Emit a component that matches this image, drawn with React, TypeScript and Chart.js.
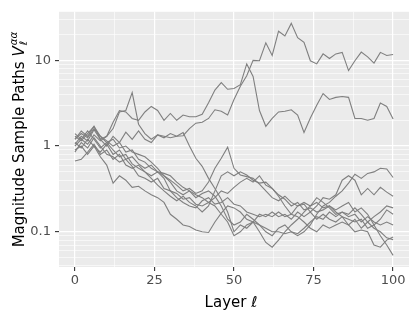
import React, { useEffect, useRef } from "react";
import { Chart, registerables } from "chart.js";

Chart.register(...registerables);

const layers = [0, 2, 4, 6, 8, 10, 12, 14, 16, 18, 20, 22, 24, 26, 28, 30, 32, 34, 36, 38, 40, 42, 44, 46, 48, 50, 52, 54, 56, 58, 60, 62, 64, 66, 68, 70, 72, 74, 76, 78, 80, 82, 84, 86, 88, 90, 92, 94, 96, 98, 100];

const pathTop = [1.05, 1.3, 1.15, 1.55, 1.2, 1.0, 1.3, 1.1, 1.45, 1.2, 1.5, 1.2, 1.1, 1.35, 1.25, 1.4, 1.3, 1.32, 1.6, 1.85, 1.9, 2.1, 2.65, 2.55, 2.3, 3.5, 5.0, 6.6, 10.0, 9.9, 16, 11.4, 21.9, 19.3, 27, 18.4, 16.2, 9.9, 9.1, 11.9, 10.5, 11.9, 12.4, 7.6, 9.9, 12.5, 11, 9.3, 12.4, 11.4, 11.7];
const pathSecond = [1.2, 1.5, 1.3, 1.7, 1.2, 1.3, 1.9, 2.6, 2.5, 2.1, 2.0, 2.5, 2.9, 2.6, 2.0, 2.4, 2.0, 2.3, 2.2, 2.2, 2.35, 3.2, 4.5, 5.5, 4.6, 4.7, 5.2, 9.1, 6.5, 2.6, 1.7, 2.1, 2.5, 2.55, 2.65, 2.3, 1.44, 2.13, 3.0, 4.1, 3.5, 3.7, 3.78, 3.7, 2.1, 2.1, 2.0, 2.1, 3.17, 2.9, 2.07];
const pathDiver = [1.0, 1.2, 1.05, 1.35, 1.15, 1.3, 1.6, 2.5, 2.6, 4.2, 1.8, 1.4, 1.2, 1.35, 1.3, 1.25, 1.3, 1.44, 1.0, 0.72, 0.58, 0.42, 0.32, 0.24, 0.17, 0.1, 0.12, 0.11, 0.13, 0.16, 0.15, 0.17, 0.15, 0.16, 0.14, 0.17, 0.15, 0.17, 0.14, 0.16, 0.14, 0.13, 0.15, 0.12, 0.14, 0.11, 0.13, 0.15, 0.17, 0.2, 0.19];
const pathRiser = [1.1, 0.95, 1.2, 1.0, 0.85, 1.05, 0.8, 0.9, 0.7, 0.75, 0.62, 0.55, 0.6, 0.5, 0.48, 0.45, 0.38, 0.33, 0.3, 0.27, 0.25, 0.22, 0.2, 0.16, 0.13, 0.09, 0.1, 0.12, 0.13, 0.12, 0.11, 0.1, 0.1, 0.095, 0.1, 0.09, 0.1, 0.12, 0.16, 0.2, 0.22, 0.26, 0.3, 0.37, 0.47, 0.42, 0.48, 0.5, 0.55, 0.54, 0.43];
const pathPeak = [1.3, 1.15, 1.4, 1.7, 1.3, 1.15, 1.0, 1.1, 0.85, 0.9, 0.7, 0.65, 0.55, 0.5, 0.45, 0.4, 0.35, 0.3, 0.32, 0.28, 0.3, 0.38, 0.55, 0.72, 0.97, 0.55, 0.46, 0.44, 0.42, 0.36, 0.3, 0.25, 0.23, 0.26, 0.22, 0.2, 0.21, 0.17, 0.2, 0.25, 0.24, 0.27, 0.4, 0.45, 0.4, 0.27, 0.32, 0.27, 0.33, 0.29, 0.26];
const pathLow = [0.9, 1.0, 0.8, 1.0, 0.75, 0.6, 0.37, 0.45, 0.4, 0.33, 0.34, 0.3, 0.27, 0.25, 0.22, 0.16, 0.14, 0.12, 0.115, 0.105, 0.1, 0.098, 0.13, 0.165, 0.2, 0.19, 0.17, 0.14, 0.13, 0.1, 0.075, 0.066, 0.08, 0.1, 0.12, 0.14, 0.17, 0.2, 0.22, 0.19, 0.2, 0.17, 0.15, 0.14, 0.13, 0.14, 0.11, 0.12, 0.14, 0.18, 0.16];
const pathFlat = [1.4, 1.2, 1.5, 1.2, 0.95, 1.1, 0.9, 0.75, 0.8, 0.62, 0.55, 0.5, 0.45, 0.5, 0.42, 0.3, 0.25, 0.22, 0.2, 0.19, 0.23, 0.25, 0.21, 0.22, 0.25, 0.21, 0.2, 0.17, 0.16, 0.15, 0.16, 0.15, 0.17, 0.15, 0.16, 0.2, 0.22, 0.2, 0.25, 0.22, 0.19, 0.16, 0.17, 0.15, 0.16, 0.13, 0.15, 0.13, 0.12, 0.13, 0.12];
const pathBump = [0.67, 0.7, 0.85, 1.05, 0.8, 0.9, 0.7, 0.8, 0.6, 0.55, 0.6, 0.5, 0.42, 0.35, 0.3, 0.26, 0.23, 0.26, 0.22, 0.2, 0.17, 0.2, 0.3, 0.45, 0.5, 0.45, 0.5, 0.46, 0.4, 0.37, 0.38, 0.32, 0.26, 0.2, 0.16, 0.15, 0.13, 0.11, 0.1, 0.12, 0.11, 0.12, 0.13, 0.12, 0.1, 0.105, 0.1, 0.07, 0.066, 0.08, 0.087];
const pathSag = [1.2, 1.4, 1.25, 1.6, 1.3, 1.1, 1.2, 0.95, 1.0, 0.85, 0.8, 0.75, 0.65, 0.55, 0.45, 0.38, 0.3, 0.27, 0.3, 0.25, 0.28, 0.3, 0.26, 0.2, 0.14, 0.12, 0.13, 0.16, 0.14, 0.12, 0.1, 0.09, 0.11, 0.12, 0.1, 0.095, 0.11, 0.13, 0.15, 0.14, 0.17, 0.15, 0.17, 0.16, 0.19, 0.16, 0.13, 0.11, 0.1, 0.085, 0.081];
const pathDrop = [0.85, 1.1, 0.95, 1.25, 1.0, 0.8, 0.75, 0.65, 0.7, 0.58, 0.45, 0.42, 0.38, 0.42, 0.32, 0.3, 0.28, 0.24, 0.25, 0.21, 0.2, 0.22, 0.25, 0.3, 0.28, 0.33, 0.38, 0.42, 0.38, 0.45, 0.35, 0.32, 0.27, 0.24, 0.2, 0.22, 0.18, 0.19, 0.17, 0.18, 0.2, 0.18, 0.2, 0.22, 0.17, 0.19, 0.16, 0.12, 0.09, 0.07, 0.053];

const samplePaths = [pathTop, pathSecond, pathDiver, pathRiser, pathPeak, pathLow, pathFlat, pathBump, pathSag, pathDrop];

const yMajorTicks = [0.1, 1, 10];
const yTickLabels = ["0.1", "1", "10"];
const yMinorTicks = [0.04, 0.05, 0.06, 0.07, 0.08, 0.09, 0.2, 0.3, 0.4, 0.5, 0.6, 0.7, 0.8, 0.9, 2, 3, 4, 5, 6, 7, 8, 9, 20, 30];
const xMajorTicks = [0, 25, 50, 75, 100];
const xTickLabels = ["0", "25", "50", "75", "100"];
const xMinorTicks = [12.5, 37.5, 62.5, 87.5];

const FONT = "'DejaVu Sans', 'Noto Sans', sans-serif";

const near = (a: number, b: number) => Math.abs(a - b) < 1e-9 * Math.max(1, Math.abs(b));
const majorIndex = (list: number[], v: number) => list.findIndex((m) => near(m, v));

const panelPlugin = {
  id: "panelBg",
  beforeDraw(chart: any) {
    const { ctx, chartArea } = chart;
    ctx.save();
    ctx.fillStyle = "#ffffff";
    ctx.fillRect(0, 0, chart.width, chart.height);
    ctx.fillStyle = "#EBEBEB";
    ctx.fillRect(chartArea.left, chartArea.top, chartArea.right - chartArea.left, chartArea.bottom - chartArea.top);
    ctx.restore();
  },
};

const titlePlugin = {
  id: "axisTitles",
  afterDraw(chart: any) {
    const { ctx, chartArea } = chart;
    ctx.save();
    ctx.fillStyle = "#000000";
    ctx.textBaseline = "alphabetic";
    ctx.textAlign = "left";

    // x title: Layer ℓ
    ctx.font = `15px ${FONT}`;
    const w1 = ctx.measureText("Layer ").width;
    ctx.font = `italic 15px ${FONT}`;
    const w2 = ctx.measureText("ℓ").width;
    const cx = (chartArea.left + chartArea.right) / 2 - 3;
    const x0 = cx - (w1 + w2) / 2;
    ctx.font = `15px ${FONT}`;
    ctx.fillText("Layer ", x0, 307);
    ctx.font = `italic 15px ${FONT}`;
    ctx.fillText("ℓ", x0 + w1, 307);

    // y title: Magnitude Sample Paths V_ℓ^{αα}
    const cy = (chartArea.top + chartArea.bottom) / 2;
    ctx.translate(24, cy);
    ctx.rotate(-Math.PI / 2);
    ctx.font = `15px ${FONT}`;
    const main = "Magnitude Sample Paths ";
    const wm = ctx.measureText(main).width;
    ctx.font = `italic 15px ${FONT}`;
    const wv = ctx.measureText("V").width;
    ctx.font = `italic 10.5px ${FONT}`;
    const wsub = ctx.measureText("ℓ").width;
    const wsup = ctx.measureText("αα").width;
    const total = wm + wv + Math.max(wsub, wsup) + 1;
    let sx = -total / 2;
    ctx.font = `15px ${FONT}`;
    ctx.fillText(main, sx, 0);
    sx += wm;
    ctx.font = `italic 15px ${FONT}`;
    ctx.fillText("V", sx, 0);
    sx += wv + 1;
    ctx.font = `italic 10.5px ${FONT}`;
    ctx.fillText("ℓ", sx, 3);
    ctx.fillText("αα", sx, -7.5);
    ctx.restore();
  },
};

export default function App() {
  const ref = useRef<HTMLCanvasElement>(null);

  useEffect(() => {
    if (!ref.current) return;
    const all = samplePaths.flat();
    const lo = Math.log10(Math.min(...all));
    const hi = Math.log10(Math.max(...all));
    const pad = (hi - lo) * 0.05;
    const ymin = Math.pow(10, lo - pad);
    const ymax = Math.pow(10, hi + pad);

    const chart = new Chart(ref.current, {
      type: "line",
      data: {
        datasets: samplePaths.map((s, k) => ({
          label: `path ${k + 1}`,
          data: s.map((v, i) => ({ x: layers[i], y: v })),
          borderColor: "#7f7f7f",
          borderWidth: 1.1,
          pointRadius: 0,
          tension: 0,
          fill: false,
        })),
      },
      options: {
        animation: false,
        responsive: false,
        events: [],
        layout: { padding: { left: 0, top: 7, right: 7, bottom: 0 } },
        plugins: { legend: { display: false }, tooltip: { enabled: false } },
        scales: {
          x: {
            type: "linear",
            min: -5,
            max: 105,
            afterBuildTicks: (s: any) => {
              s.ticks = [...xMajorTicks, ...xMinorTicks].sort((a, b) => a - b).map((v) => ({ value: v }));
            },
            afterFit: (s: any) => {
              s.height = 48;
            },
            border: { display: false },
            grid: {
              color: "#ffffff",
              lineWidth: (c: any) => (c.tick && majorIndex(xMajorTicks, c.tick.value) >= 0 ? 1.2 : 0.6),
              tickColor: (c: any) => (c.tick && majorIndex(xMajorTicks, c.tick.value) >= 0 ? "#333333" : "rgba(0,0,0,0)"),
              tickWidth: 1.1,
              tickLength: 4,
              drawTicks: true,
            },
            ticks: {
              autoSkip: false,
              maxRotation: 0,
              padding: 2,
              color: "#4D4D4D",
              font: { family: FONT, size: 13 },
              callback: (v: any) => {
                const i = majorIndex(xMajorTicks, Number(v));
                return i >= 0 ? xTickLabels[i] : "";
              },
            },
          },
          y: {
            type: "logarithmic",
            min: ymin,
            max: ymax,
            afterBuildTicks: (s: any) => {
              s.ticks = [...yMajorTicks, ...yMinorTicks].sort((a, b) => a - b).map((v) => ({ value: v }));
            },
            afterFit: (s: any) => {
              s.width = 59;
            },
            border: { display: false },
            grid: {
              color: "#ffffff",
              lineWidth: (c: any) => (c.tick && majorIndex(yMajorTicks, c.tick.value) >= 0 ? 1.2 : 0.6),
              tickColor: (c: any) => (c.tick && majorIndex(yMajorTicks, c.tick.value) >= 0 ? "#333333" : "rgba(0,0,0,0)"),
              tickWidth: 1.1,
              tickLength: 4,
              drawTicks: true,
            },
            ticks: {
              autoSkip: false,
              padding: 4,
              color: "#4D4D4D",
              font: { family: FONT, size: 13 },
              callback: (v: any) => {
                const i = majorIndex(yMajorTicks, Number(v));
                return i >= 0 ? yTickLabels[i] : "";
              },
            },
          },
        },
      },
      plugins: [panelPlugin, titlePlugin],
    } as any);

    return () => chart.destroy();
  }, []);

  return (
    <div style={{ position: "fixed", left: 0, top: 0, width: 416, height: 315, background: "#ffffff" }}>
      <canvas ref={ref} width={416} height={315} style={{ display: "block", width: 416, height: 315 }} />
    </div>
  );
}
